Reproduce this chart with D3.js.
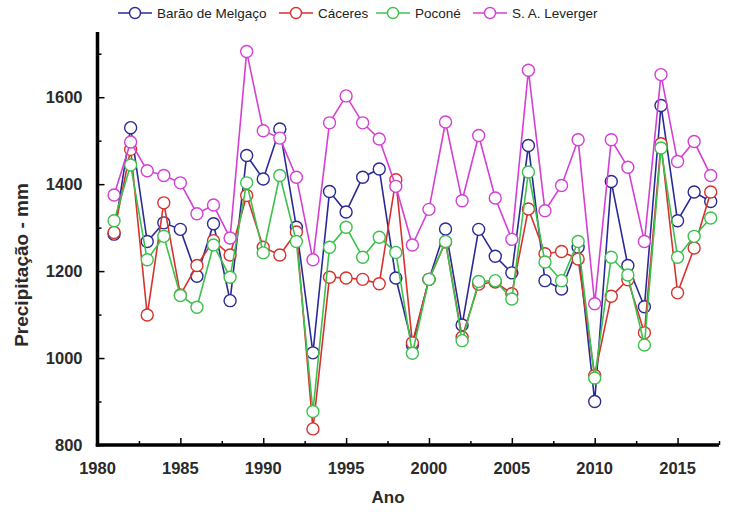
<!DOCTYPE html>
<html>
<head>
<meta charset="utf-8">
<script src="https://cdn.jsdelivr.net/npm/d3@7"></script>
<style>
  body { margin: 0; background: #fff; }
  svg { display: block; font-family: "Liberation Sans", Arial, sans-serif; }
</style>
</head>
<body>
<div id="chart"></div>
<script>
var years = d3.range(1981, 2018);

var barao = [1285, 1530, 1268, 1311, 1296, 1188, 1309, 1132, 1466, 1412, 1527, 1301, 1012,
  1383, 1336, 1416, 1435, 1184, 1030, 1181, 1297, 1076, 1296, 1234, 1196, 1489, 1178, 1159,
  1255, 900, 1406, 1213, 1118, 1581, 1316, 1382, 1360];
var caceres = [1289, 1480, 1099, 1357, 1145, 1213, 1270, 1237, 1374, 1255, 1237, 1290, 837,
  1186, 1184, 1181, 1171, 1410, 1035, 1181, 1267, 1048, 1170, 1175, 1148, 1343, 1240, 1245,
  1228, 960, 1142, 1180, 1058, 1493, 1150, 1253, 1382];
var pocone = [1316, 1444, 1226, 1280, 1144, 1117, 1260, 1186, 1403, 1242, 1420, 1268, 877,
  1255, 1301, 1232, 1278, 1243, 1011, 1181, 1268, 1040, 1176, 1178, 1136, 1428, 1221, 1178,
  1268, 954, 1232, 1191, 1030, 1483, 1232, 1280, 1322];
var leverger = [1375, 1497, 1431, 1420, 1403, 1332, 1352, 1276, 1705, 1523, 1506, 1416, 1226,
  1541, 1603, 1541, 1504, 1395, 1260, 1342, 1543, 1362, 1512, 1368, 1273, 1662, 1339, 1397,
  1502, 1125, 1502, 1439, 1268, 1652, 1452, 1498, 1420];

var seriesNames = ["Barão de Melgaço", "Cáceres", "Poconé", "S. A. Leverger"];
var seriesColors = ["#2a2a96", "#d6322e", "#3cc24c", "#d43fd4"];
var seriesValues = [barao, caceres, pocone, leverger];

var yMajor = [800, 1000, 1200, 1400, 1600];
var yMinor = [900, 1100, 1300, 1500, 1700];
var xMajor = [1980, 1985, 1990, 1995, 2000, 2005, 2010, 2015];
var xMinor = [1982.5, 1987.5, 1992.5, 1997.5, 2002.5, 2007.5, 2012.5, 2017.5];

var W = 729, H = 512;
var svg = d3.select("#chart").append("svg").attr("width", W).attr("height", H);

var x = d3.scaleLinear().domain([1980, 2017.5]).range([97.5, 719]);
var y = d3.scaleLinear().domain([800, 1750]).range([445, 32]);

// axes (ticks pointing inward)
var gy = svg.append("g").attr("transform", "translate(" + x(1980) + ",0)");
gy.call(d3.axisRight(y).tickValues(yMajor).tickSize(7).tickFormat(""));
gy.append("g").call(d3.axisRight(y).tickValues(yMinor).tickSize(4).tickFormat(""));
gy.selectAll("path.domain").remove();
gy.selectAll("line").attr("stroke", "#000").attr("stroke-width", 1.5);
gy.append("line").attr("x1", 0).attr("x2", 0).attr("y1", y(1750)).attr("y2", y(800) + 1.5)
  .attr("stroke", "#000").attr("stroke-width", 3.5);
gy.selectAll("text.ylab").data(yMajor).enter().append("text")
  .attr("x", -15).attr("y", function (d) { return y(d); }).attr("dy", "0.36em")
  .attr("text-anchor", "end").attr("font-size", 16.5).attr("font-weight", "bold")
  .attr("fill", "#2a2a2a").text(function (d) { return d; });

var gx = svg.append("g").attr("transform", "translate(0," + y(800) + ")");
gx.call(d3.axisTop(x).tickValues(xMajor).tickSize(7).tickFormat(""));
gx.append("g").call(d3.axisTop(x).tickValues(xMinor).tickSize(4).tickFormat(""));
gx.selectAll("path.domain").remove();
gx.selectAll("line").attr("stroke", "#000").attr("stroke-width", 1.5);
gx.append("line").attr("x1", x(1980) - 1.75).attr("x2", x(2017.5)).attr("y1", 0).attr("y2", 0)
  .attr("stroke", "#000").attr("stroke-width", 3.5);
gx.selectAll("text.xlab").data(xMajor).enter().append("text")
  .attr("x", function (d) { return x(d); }).attr("y", 23).attr("dy", "0.36em")
  .attr("text-anchor", "middle").attr("font-size", 16.5).attr("font-weight", "bold")
  .attr("fill", "#2a2a2a").text(function (d) { return d; });

// axis titles
svg.append("text").attr("x", 388).attr("y", 503).attr("text-anchor", "middle")
  .attr("font-size", 17).attr("font-weight", "bold").attr("fill", "#2a2a2a").text("Ano");
svg.append("text").attr("transform", "translate(28,265) rotate(-90)")
  .attr("text-anchor", "middle").attr("font-size", 19).attr("font-weight", "bold")
  .attr("fill", "#2a2a2a").text("Precipitação - mm");

// series
var line = d3.line().x(function (d, i) { return x(years[i]); }).y(function (d) { return y(d); });

seriesValues.forEach(function (vals, k) {
  var g = svg.append("g");
  g.append("path").datum(vals).attr("d", line).attr("fill", "none")
    .attr("stroke", seriesColors[k]).attr("stroke-width", 1.6);
  g.selectAll("circle").data(vals).enter().append("circle")
    .attr("cx", function (d, i) { return x(years[i]); })
    .attr("cy", function (d) { return y(d); })
    .attr("r", 6).attr("fill", "#fff")
    .attr("stroke", seriesColors[k]).attr("stroke-width", 1.4);
});

// legend
var legendX = [118, 279, 376, 473];
var leg = svg.append("g");
seriesNames.forEach(function (name, k) {
  var g = leg.append("g").attr("transform", "translate(" + legendX[k] + ",13)");
  g.append("line").attr("x1", 0).attr("x2", 34).attr("y1", 0).attr("y2", 0)
    .attr("stroke", seriesColors[k]).attr("stroke-width", 1.6);
  g.append("circle").attr("cx", 17).attr("cy", 0).attr("r", 5.5).attr("fill", "#fff")
    .attr("stroke", seriesColors[k]).attr("stroke-width", 1.4);
  g.append("text").attr("x", 39).attr("y", 0).attr("dy", "0.35em")
    .attr("font-size", 13.5).attr("fill", "#222").text(name);
});
</script>
</body>
</html>
